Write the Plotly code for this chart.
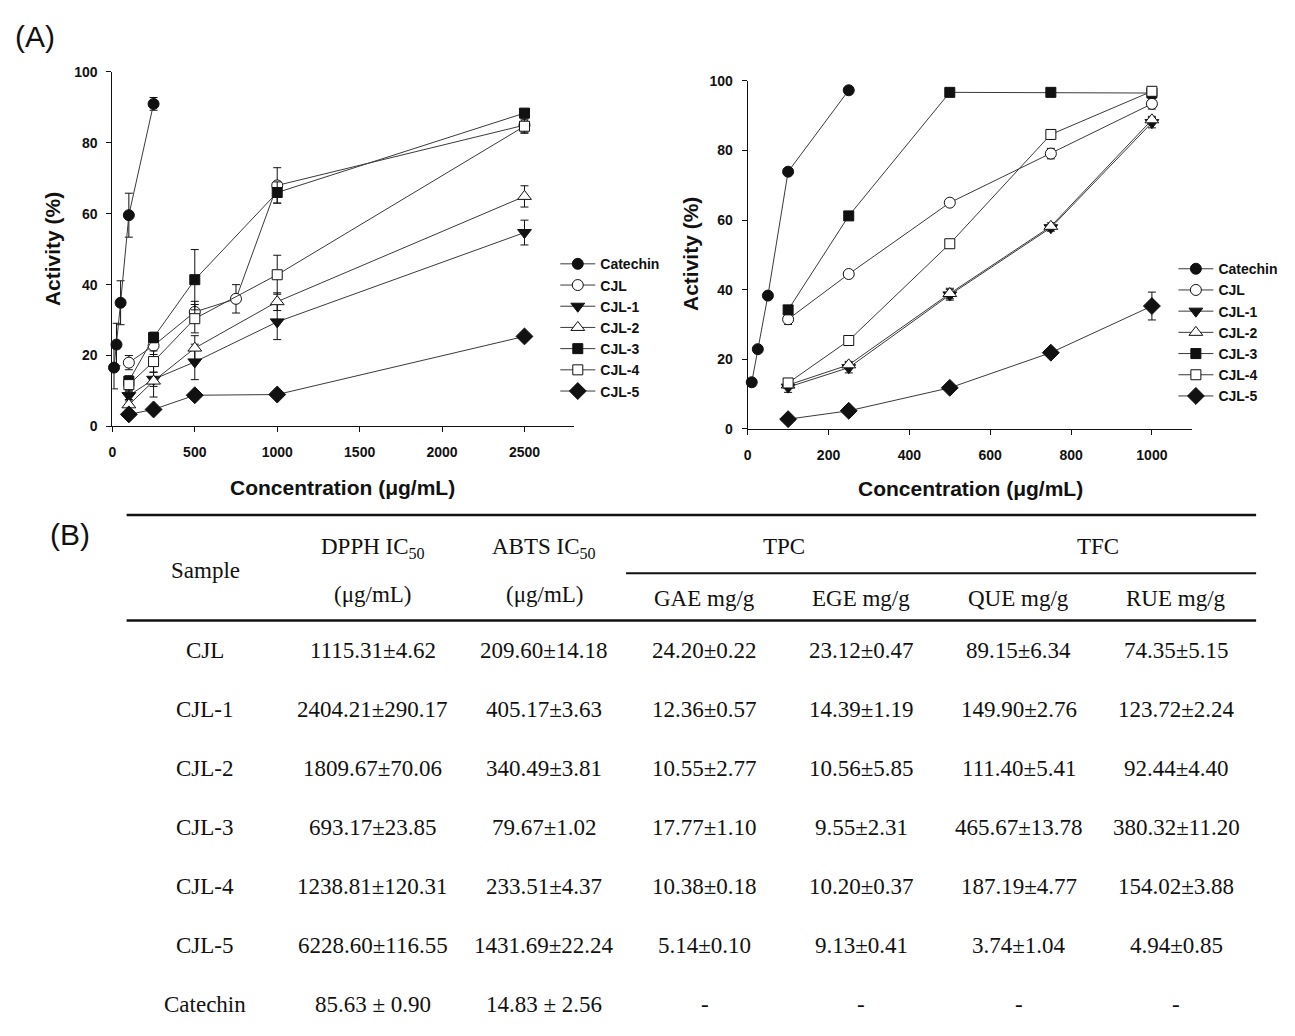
import plotly.graph_objects as go

W, H = 1295, 1036

# ---------------- DPPH radical scavenging (left panel) ----------------
dpph_cat_conc = [10, 25, 50, 100, 250]
dpph_catechin = [16.6, 23.1, 34.9, 59.6, 91.0]
dpph_catechin_err = [6.0, 6.0, 6.2, 6.2, 1.8]

dpph_cjl_conc = [100, 250, 500, 750, 1000, 2500]
dpph_cjl = [18.0, 22.8, 32.3, 36.0, 68.0, 85.0]
dpph_cjl_err = [2.0, 2.5, 3.0, 4.0, 5.0, 2.0]

dpph_frac_conc = [100, 250, 500, 1000, 2500]
dpph_cjl1 = [8.7, 13.3, 18.2, 29.5, 54.7]
dpph_cjl1_err = [1.5, 2.0, 5.0, 5.0, 3.5]
dpph_cjl2 = [6.1, 12.8, 22.1, 35.2, 64.9]
dpph_cjl2_err = [1.5, 4.5, 3.5, 2.5, 3.0]
dpph_cjl3 = [12.8, 25.1, 41.4, 66.0, 88.4]
dpph_cjl3_err = [1.5, 1.5, 8.5, 3.0, 1.0]
dpph_cjl4 = [11.8, 18.3, 30.4, 42.8, 84.7]
dpph_cjl4_err = [2.0, 3.0, 4.0, 5.5, 2.0]
dpph_cjl5 = [3.4, 4.8, 8.8, 9.0, 25.4]
dpph_cjl5_err = [0.8, 0.8, 0.8, 0.8, 0.8]

# ---------------- ABTS radical scavenging (right panel) ----------------
abts_cat_conc = [10, 25, 50, 100, 250]
abts_catechin = [13.4, 22.9, 38.3, 73.9, 97.3]
abts_catechin_err = [1.0, 0.5, 0.5, 0.5, 0.5]

abts_conc = [100, 250, 500, 750, 1000]
abts_cjl = [31.5, 44.5, 65.0, 79.1, 93.4]
abts_cjl_err = [1.5, 0.8, 0.8, 1.5, 1.5]
abts_cjl1 = [12.0, 17.6, 38.5, 57.8, 88.0]
abts_cjl1_err = [1.5, 1.5, 1.5, 1.0, 1.5]
abts_cjl2 = [12.6, 18.4, 38.9, 58.2, 88.8]
abts_cjl2_err = [1.0, 1.0, 1.5, 1.0, 1.0]
abts_cjl3 = [34.2, 61.2, 96.7, 96.7, 96.5]
abts_cjl3_err = [0.5, 0.5, 0.5, 0.5, 0.5]
abts_cjl4 = [13.2, 25.4, 53.2, 84.6, 97.0]
abts_cjl4_err = [0.5, 0.5, 0.5, 0.5, 0.5]
abts_cjl5 = [2.8, 5.2, 11.8, 21.9, 35.3]
abts_cjl5_err = [0.5, 0.5, 0.8, 0.8, 4.0]

series_names = ["Catechin", "CJL", "CJL-1", "CJL-2", "CJL-3", "CJL-4", "CJL-5"]

# ---------------- Table (B) ----------------
tbl_samples = ["CJL", "CJL-1", "CJL-2", "CJL-3", "CJL-4", "CJL-5", "Catechin"]
tbl_dpph = ["1115.31±4.62", "2404.21±290.17", "1809.67±70.06", "693.17±23.85",
            "1238.81±120.31", "6228.60±116.55", "85.63 ± 0.90"]
tbl_abts = ["209.60±14.18", "405.17±3.63", "340.49±3.81", "79.67±1.02",
            "233.51±4.37", "1431.69±22.24", "14.83 ± 2.56"]
tbl_gae = ["24.20±0.22", "12.36±0.57", "10.55±2.77", "17.77±1.10",
           "10.38±0.18", "5.14±0.10", "-"]
tbl_ege = ["23.12±0.47", "14.39±1.19", "10.56±5.85", "9.55±2.31",
           "10.20±0.37", "9.13±0.41", "-"]
tbl_que = ["89.15±6.34", "149.90±2.76", "111.40±5.41", "465.67±13.78",
           "187.19±4.77", "3.74±1.04", "-"]
tbl_rue = ["74.35±5.15", "123.72±2.24", "92.44±4.40", "380.32±11.20",
           "154.02±3.88", "4.94±0.85", "-"]


def px(x):
    """Pixel x -> paper fraction."""
    return x / W


def py(y):
    """Pixel y (from top) -> paper fraction."""
    return 1 - y / H


SANS = "Liberation Sans, Arial, sans-serif"
SERIF = "Liberation Serif, Times New Roman, serif"
INK = "#111111"
LINE = "#3a3a3a"

styles = {
    "Catechin": dict(symbol="circle", color=INK, size=11),
    "CJL": dict(symbol="circle", color="white", size=11),
    "CJL-1": dict(symbol="triangle-down", color=INK, size=12),
    "CJL-2": dict(symbol="triangle-up", color="white", size=12),
    "CJL-3": dict(symbol="square", color=INK, size=10),
    "CJL-4": dict(symbol="square", color="white", size=10),
    "CJL-5": dict(symbol="diamond", color=INK, size=13),
}

fig = go.Figure()


def add_series(name, xs, ys, errs, xaxis, yaxis, legend):
    st = styles[name]
    fig.add_trace(go.Scatter(
        x=xs, y=ys, name=name, mode="lines+markers",
        xaxis=xaxis, yaxis=yaxis, legend=legend, cliponaxis=False,
        line=dict(color=LINE, width=1),
        marker=dict(symbol=st["symbol"], size=st["size"], color=st["color"],
                    line=dict(color=INK, width=1)),
        error_y=dict(type="data", array=errs, visible=True,
                     color=INK, thickness=1, width=4),
    ))


dpph_data = [
    (dpph_cat_conc, dpph_catechin, dpph_catechin_err),
    (dpph_cjl_conc, dpph_cjl, dpph_cjl_err),
    (dpph_frac_conc, dpph_cjl1, dpph_cjl1_err),
    (dpph_frac_conc, dpph_cjl2, dpph_cjl2_err),
    (dpph_frac_conc, dpph_cjl3, dpph_cjl3_err),
    (dpph_frac_conc, dpph_cjl4, dpph_cjl4_err),
    (dpph_frac_conc, dpph_cjl5, dpph_cjl5_err),
]
abts_data = [
    (abts_cat_conc, abts_catechin, abts_catechin_err),
    (abts_conc, abts_cjl, abts_cjl_err),
    (abts_conc, abts_cjl1, abts_cjl1_err),
    (abts_conc, abts_cjl2, abts_cjl2_err),
    (abts_conc, abts_cjl3, abts_cjl3_err),
    (abts_conc, abts_cjl4, abts_cjl4_err),
    (abts_conc, abts_cjl5, abts_cjl5_err),
]

for name, (xs, ys, es) in zip(series_names, dpph_data):
    add_series(name, xs, ys, es, "x", "y", "legend")
for name, (xs, ys, es) in zip(series_names, abts_data):
    add_series(name, xs, ys, es, "x2", "y2", "legend2")

tick_font = dict(family=SANS, size=14, color=INK, weight="bold")
axis_common = dict(showline=True, linecolor=INK, linewidth=1, ticks="outside",
                   ticklen=5, tickwidth=1, tickcolor=INK, showgrid=False,
                   zeroline=False, tickfont=tick_font, fixedrange=True)

legend_common = dict(font=dict(family=SANS, size=14, color=INK, weight="bold"),
                     bgcolor="rgba(0,0,0,0)", borderwidth=0,
                     xanchor="left", yanchor="top", itemwidth=35,
                     tracegroupgap=0)

fig.update_layout(
    width=W, height=H, margin=dict(l=0, r=0, t=0, b=0),
    paper_bgcolor="white", plot_bgcolor="white", showlegend=True,
    xaxis=dict(domain=[px(108.7), px(571.7)], range=[0, 2800],
               tickvals=[0, 500, 1000, 1500, 2000, 2500], anchor="y",
               ticklabelstandoff=8, **axis_common),
    yaxis=dict(domain=[py(425), py(65)], range=[0, 100],
               tickvals=[0, 20, 40, 60, 80, 100], anchor="x",
               ticklabelstandoff=6, **axis_common),
    xaxis2=dict(domain=[px(746), px(1192)], range=[0, 1100],
                tickvals=[0, 200, 400, 600, 800, 1000], anchor="y2",
                ticklabelstandoff=8, **axis_common),
    yaxis2=dict(domain=[py(427.5), py(74)], range=[0, 100],
                tickvals=[0, 20, 40, 60, 80, 100], anchor="x2",
                ticklabelstandoff=6, **axis_common),
    legend=dict(x=px(553), y=py(244), **legend_common),
    legend2=dict(x=px(1173), y=py(249), **legend_common),
)

annotations = []


def text(x, y, s, size, family=SANS, bold=False, angle=0):
    annotations.append(dict(
        x=px(x), y=py(y), xref="paper", yref="paper", text=s, showarrow=False,
        xanchor="center", yanchor="middle", textangle=angle,
        font=dict(family=family, size=size, color=INK,
                  weight="bold" if bold else "normal")))


# panel labels and axis titles
text(31, 29, "(A)", 30)
text(66, 535, "(B)", 30)
text(48, 245, "Activity (%)", 21, bold=True, angle=-90)
text(688, 250, "Activity (%)", 21, bold=True, angle=-90)
text(340, 487, "Concentration (μg/mL)", 21, bold=True)
text(969, 488, "Concentration (μg/mL)", 21, bold=True)

# table header
TS = 23
col_x = [202, 370, 542, 703, 860, 1018, 1176]
text(col_x[0], 571, "Sample", TS, SERIF)
text(col_x[1], 548, "DPPH IC<sub>50</sub>", TS, SERIF)
text(col_x[1], 596, "(μg/mL)", TS, SERIF)
text(col_x[2], 548, "ABTS IC<sub>50</sub>", TS, SERIF)
text(col_x[2], 596, "(μg/mL)", TS, SERIF)
text(782, 547, "TPC", TS, SERIF)
text(1097, 547, "TFC", TS, SERIF)
for cx, lab in zip(col_x[3:], ["GAE mg/g", "EGE mg/g", "QUE mg/g", "RUE mg/g"]):
    text(cx, 600, lab, TS, SERIF)

# table body
columns = [tbl_samples, tbl_dpph, tbl_abts, tbl_gae, tbl_ege, tbl_que, tbl_rue]
row_y0, row_step = 653, 59.9
for cx, col in zip(col_x, columns):
    for i, val in enumerate(col):
        text(cx, row_y0 + i * row_step, val, TS, SERIF)

fig.update_layout(annotations=annotations)

# table rules
rules = [(123, 1256, 515, 2.5), (624, 1256, 574, 2), (123, 1256, 622, 2.5)]
for x0, x1, yy, lw in rules:
    fig.add_shape(type="line", xref="paper", yref="paper",
                  x0=px(x0), x1=px(x1), y0=py(yy), y1=py(yy),
                  line=dict(color=INK, width=lw))

fig.write_html("out.html")
